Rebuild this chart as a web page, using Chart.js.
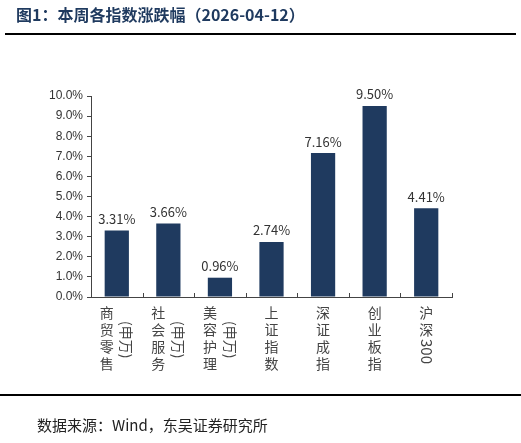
<!DOCTYPE html>
<html><head><meta charset="utf-8">
<script src="https://cdn.jsdelivr.net/npm/chart.js@4/dist/chart.umd.min.js"></script>
<style>html,body{margin:0;padding:0;background:#fff}#wrap{width:521px;height:443px}</style>
</head><body><div id="wrap"><canvas id="c" width="521" height="443"></canvas></div>
<script>
// ── Data ──
const categories = ['商贸零售(申万)', '社会服务(申万)', '美容护理(申万)', '上证指数', '深证成指', '创业板指', '沪深300'];
const mainText = ['商贸零售', '社会服务', '美容护理', '上证指数', '深证成指', '创业板指', '沪深'];
const subText = ['(申万)', '(申万)', '(申万)', '', '', '', ''];
const changes = [3.31, 3.66, 0.96, 2.74, 7.16, 9.50, 4.41];
const yTicks = [0, 1, 2, 3, 4, 5, 6, 7, 8, 9, 10];

const BAR = '#1f3a5f';
const CJK = "'Noto Sans CJK SC', sans-serif";

// ── Decorations: title, rules, footer, vertical x labels ──
const decor = {
  id: 'decor',
  afterDraw(chart) {
    const ctx = chart.ctx;
    const x = chart.scales.x, a = chart.chartArea;
    ctx.save();
    // title
    ctx.fillStyle = '#1f3a5f';
    ctx.font = 'bold 16px ' + CJK;
    ctx.textBaseline = 'middle';
    ctx.fillText('图1：本周各指数涨跌幅（2026-04-12）', 16, 15);
    ctx.fillStyle = '#000';
    ctx.fillRect(5, 33, 511, 2);
    ctx.fillRect(0, 394, 521, 2);
    // footer
    ctx.fillStyle = '#222';
    ctx.font = '15px ' + CJK;
    ctx.fillText('数据来源：Wind，东吴证券研究所', 37, 425);
    // x-axis ticks between categories (pointing up)
    ctx.strokeStyle = '#444';
    ctx.lineWidth = 1;
    const w = (a.right - a.left) / categories.length;
    for (let i = 0; i <= categories.length; i++) {
      const px = Math.round(a.left + i * w) + 0.5;
      ctx.beginPath(); ctx.moveTo(px, a.bottom); ctx.lineTo(px, a.bottom - 4); ctx.stroke();
    }
    // vertical labels
    ctx.fillStyle = '#444';
    ctx.font = '14px ' + CJK;
    ctx.textAlign = 'center';
    ctx.textBaseline = 'middle';
    categories.forEach((c, i) => {
      const cx = x.getPixelForValue(i);
      const hasSub = subText[i] !== '';
      const mx = hasSub ? cx - 10 : cx;
      [...mainText[i]].forEach((ch, k) => ctx.fillText(ch, mx, 313 + k * 17));
      if (hasSub) {
        ctx.save();
        ctx.translate(cx + 10, 321);
        ctx.rotate(Math.PI / 2);
        ctx.textAlign = 'left';
        ctx.fillText(subText[i], 0, 0);
        ctx.restore();
      }
      if (c === '沪深300') {
        ctx.save();
        ctx.translate(mx, 313 + 2 * 17 - 8);
        ctx.rotate(Math.PI / 2);
        ctx.textAlign = 'left';
        ctx.font = '15px ' + CJK;
        ctx.fillText('300', 0, 0);
        ctx.restore();
      }
    });
    // value labels
    const meta = chart.getDatasetMeta(0);
    ctx.fillStyle = '#333';
    ctx.font = '13px ' + CJK;
    ctx.textBaseline = 'bottom';
    meta.data.forEach((bar, i) => {
      ctx.fillText(changes[i].toFixed(2) + '%', bar.x, bar.y - 5);
    });
    ctx.restore();
  }
};

new Chart(document.getElementById('c'), {
  type: 'bar',
  data: {
    labels: categories,
    datasets: [{
      data: changes,
      backgroundColor: BAR,
      barPercentage: 0.47,
      categoryPercentage: 1,
    }],
  },
  options: {
    responsive: false,
    animation: false,
    layout: { padding: { left: 0, right: 69, top: 96, bottom: 0 } },
    plugins: { legend: { display: false }, tooltip: { enabled: false } },
    scales: {
      x: {
        ticks: { display: false },
        grid: { display: false },
        border: { color: '#444' },
        afterFit: s => { s.height = 146; },
      },
      y: {
        min: 0, max: 10,
        afterBuildTicks: s => { s.ticks = yTicks.map(v => ({ value: v })); },
        ticks: {
          color: '#333',
          font: { size: 12, family: "'Liberation Sans', Arial, sans-serif" },
          padding: 4,
          callback: v => v.toFixed(1) + '%',
        },
        grid: { drawOnChartArea: false, tickLength: 4, color: '#444' },
        border: { color: '#444' },
        afterFit: s => { s.width = 91; },
      },
    },
  },
  plugins: [decor],
});
</script></body></html>
